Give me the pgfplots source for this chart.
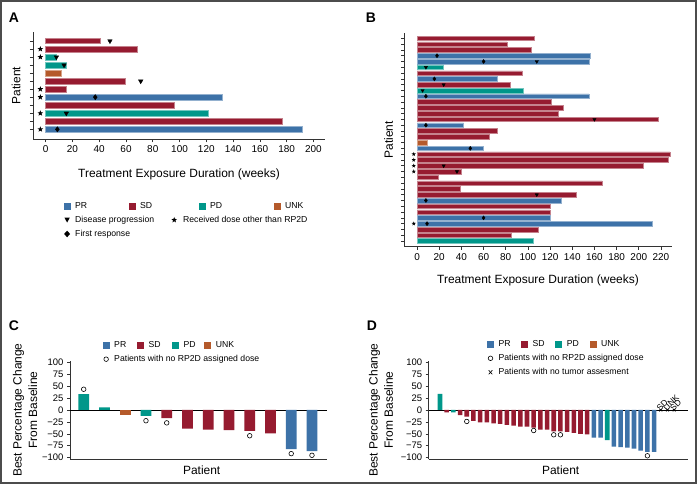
\documentclass[border=0pt]{standalone}
\usepackage{fontspec}
\setmainfont{Liberation Sans}
\usepackage{pgfplots}
\pgfplotsset{compat=1.18}

\definecolor{prc}{HTML}{3D72A8}
\definecolor{sdc}{HTML}{961B30}
\definecolor{pdc}{HTML}{00978A}
\definecolor{unkc}{HTML}{B55A2B}
\definecolor{axc}{HTML}{333333}

\newcommand{\fs}[1]{\fontsize{#1}{#1}\selectfont}

% filled five point star
\pgfdeclareplotmark{fstar}{%
  \pgfpathmoveto{\pgfpointpolar{90}{\pgfplotmarksize}}%
  \pgfpathlineto{\pgfpointpolar{126}{0.42*\pgfplotmarksize}}%
  \pgfpathlineto{\pgfpointpolar{162}{\pgfplotmarksize}}%
  \pgfpathlineto{\pgfpointpolar{198}{0.42*\pgfplotmarksize}}%
  \pgfpathlineto{\pgfpointpolar{234}{\pgfplotmarksize}}%
  \pgfpathlineto{\pgfpointpolar{270}{0.42*\pgfplotmarksize}}%
  \pgfpathlineto{\pgfpointpolar{306}{\pgfplotmarksize}}%
  \pgfpathlineto{\pgfpointpolar{342}{0.42*\pgfplotmarksize}}%
  \pgfpathlineto{\pgfpointpolar{18}{\pgfplotmarksize}}%
  \pgfpathlineto{\pgfpointpolar{54}{0.42*\pgfplotmarksize}}%
  \pgfpathclose\pgfusepathqfill}

% legend keys
\newcommand{\legsq}[1]{\addlegendimage{legend image code/.code={\fill[#1, draw=none] (0bp,-3.6bp) rectangle (7.2bp,3.6bp);}}}
\newcommand{\legsym}[1]{\addlegendimage{legend image code/.code={\path[draw=none, fill=none] (0bp,-3.6bp) rectangle (7.2bp,3.6bp); #1}}}
\newcommand{\legtri}{\fill[black, draw=none] (3.6bp,-2.6bp) -- (0.9bp,2.4bp) -- (6.3bp,2.4bp) -- cycle;}
\newcommand{\legdiam}{\fill[black, draw=none] (3.6bp,3.3bp) -- (6.6bp,0bp) -- (3.6bp,-3.3bp) -- (0.6bp,0bp) -- cycle;}
\newcommand{\legcirc}{\draw[black, fill=none, line width=0.6bp] (3.6bp,0bp) circle (2.3bp);}
\newcommand{\legcross}{\draw[black, fill=none, line width=0.6bp] (1.8bp,-2bp) -- (5.4bp,2bp) (1.8bp,2bp) -- (5.4bp,-2bp);}

\pgfplotsset{
  panel/.style={
    scale only axis, anchor=south west, clip=false,
    axis x line*=bottom, axis y line*=left,
    axis line style={axc, line width=0.7bp},
    tick style={axc, line width=0.6bp},
    tick align=outside, major tick length=3bp,
    tick label style={font=\fs{10}},
    /pgf/number format/assume math mode=true,
    label style={font=\fs{12}},
    legend cell align=left,
  },
  hb/.style={xbar, bar shift=0pt, bar width=#1, forget plot, line width=0.5bp},
  vb/.style={ybar, bar shift=0pt, bar width=#1, forget plot, draw=none},
  leg/.style={draw=none, fill=none, inner sep=0pt, font=\fs{8.7},
    nodes={inner sep=0pt},
    row sep=6.2bp, column sep=0pt,
    /tikz/every odd column/.style={column sep=4.5bp}},
}

\begin{document}
\begin{tikzpicture}
\path[use as bounding box] (0,0) rectangle (699bp,-488bp);
\fill[white] (0,0) rectangle (699bp,-488bp);
\draw[black!70, line width=1.5bp] (1bp,-1bp) rectangle (696bp,-483bp);

\node[font=\bfseries\fs{14}] at (14bp,-18bp) {A};
\node[font=\bfseries\fs{14}] at (371bp,-18bp) {B};
\node[font=\bfseries\fs{14}] at (14bp,-326bp) {C};
\node[font=\bfseries\fs{14}] at (372bp,-326bp) {D};

% ---------------- A ----------------
\begin{axis}[panel,
  at={(33bp,-139.3bp)}, width=292bp, height=107.6bp,
  xmin=-9.5, xmax=208.7, ymin=-0.245, ymax=13.16,
  xtick={0,20,...,200}, ytick={1,...,12}, yticklabels={},
  xlabel={Treatment Exposure Duration (weeks)}, ylabel={Patient},
  xlabel style={at={(axis description cs:0.5,-0.322)}, anchor=center},
  ylabel style={at={(axis description cs:-0.058,0.5)}, anchor=center},
  legend columns=4,
  legend style={leg, at={(axis description cs:0.1038,-0.584)}, anchor=north west},
]
\addplot[hb=0.68, fill=prc, draw=prc!55!white] coordinates {(132,5) (191.8,1)};
\addplot[hb=0.68, fill=sdc, draw=sdc!55!white] coordinates {(40.6,12) (68.5,11) (59.3,7) (15.7,6) (96.4,4) (176.8,2)};
\addplot[hb=0.68, fill=pdc, draw=pdc!55!white] coordinates {(8.2,10) (15,9) (121.5,3)};
\addplot[hb=0.68, fill=unkc, draw=unkc!55!white] coordinates {(11.7,8)};
\addplot[only marks, mark=triangle*, mark size=2.6bp, mark options={rotate=180, fill=black, draw=black}, forget plot]
  coordinates {(48,12) (8,10) (13.7,9) (71,7) (15.4,3)};
\addplot[only marks, mark=diamond*, mark size=2.6bp, mark options={fill=black, draw=black}, forget plot]
  coordinates {(37,5) (8.7,1)};
\addplot[only marks, mark=fstar, mark size=3bp, mark options={fill=black}, forget plot]
  coordinates {(-4,11) (-4,10) (-4,6) (-4,5) (-4,3) (-4,1)};
\legsq{prc}\addlegendentry{\makebox[53.3bp][l]{PR}}
\legsq{sdc}\addlegendentry{\makebox[58.3bp][l]{SD}}
\legsq{pdc}\addlegendentry{\makebox[63.3bp][l]{PD}}
\legsq{unkc}\addlegendentry{UNK}
\legsym{\legtri}\addlegendentry{\makebox[53.3bp][l]{Disease progression}}
\legsym{\fill[black, draw=none, overlay, shift={(45.7bp,0bp)}] (90:3bp) -- (126:1.25bp) -- (162:3bp) -- (198:1.25bp) -- (234:3bp) -- (270:1.25bp) -- (306:3bp) -- (342:1.25bp) -- (18:3bp) -- (54:1.25bp) -- cycle;}
\addlegendentry{\makebox[58.3bp][l]{\hspace{42.9bp}Received dose other than RP2D}}
\addlegendimage{empty legend}\addlegendentry{}
\addlegendimage{empty legend}\addlegendentry{}
\legsym{\legdiam}\addlegendentry{\makebox[53.3bp][l]{First response}}
\end{axis}

% ---------------- B ----------------
\begin{axis}[panel,
  at={(404.3bp,-246.7bp)}, width=267.4bp, height=213.7bp,
  xmin=-11.5, xmax=229.7, ymin=0.02, ymax=36.92,
  xtick={0,20,...,220}, ytick={1,...,36}, yticklabels={},
  xlabel={Treatment Exposure Duration (weeks)}, ylabel={Patient},
  xlabel style={at={(axis description cs:0.5,-0.16)}, anchor=center},
  ylabel style={at={(axis description cs:-0.059,0.5)}, anchor=center},
]
\addplot[hb=0.8, fill=prc, draw=prc!55!white] coordinates {
  (156,33) (155,32) (72,29) (155,26) (42,21) (60,17) (130,8) (120,5) (212,4)};
\addplot[hb=0.8, fill=sdc, draw=sdc!55!white] coordinates {
  (106,36) (81,35) (103,34) (95,30) (84,28) (121,25) (132,24) (127,23) (218,22)
  (72,20) (65,19) (228,16) (227,15) (204,14) (40,13) (19,12) (167,11) (39,10)
  (144,9) (120,7) (120,6) (109,3) (85,2)};
\addplot[hb=0.8, fill=pdc, draw=pdc!55!white] coordinates {(24,31) (96,27) (105,1)};
\addplot[hb=0.8, fill=unkc, draw=unkc!55!white] coordinates {(9.5,18)};
\addplot[only marks, mark=triangle*, mark size=1.9bp, mark options={rotate=180, fill=black, draw=black}, forget plot]
  coordinates {(108,32) (8,31) (24,28) (5,27) (160,22) (24,14) (36,13) (108,9)};
\addplot[only marks, mark=diamond*, mark size=2bp, mark options={fill=black, draw=black}, forget plot]
  coordinates {(18,33) (60,32) (15.6,29) (8,26) (8,21) (48,17) (8,8) (60,5) (9,4)};
\addplot[only marks, mark=fstar, mark size=2.2bp, mark options={fill=black}, forget plot]
  coordinates {(-3,16) (-3,15) (-3,14) (-3,13) (-3,4)};
\end{axis}

% ---------------- C ----------------
\begin{axis}[panel,
  at={(70bp,-459.3bp)}, width=256.7bp, height=98.3bp,
  xmin=0.34, xmax=12.71, ymin=-103.4, ymax=102.7,
  xtick=\empty, ytick={-100,-75,...,100},
  yticklabels={−100,−75,−50,−25,0,25,50,75,100},
  tick label style={font=\fs{9.5}},
  extra y ticks={0}, extra y tick labels={},
  extra y tick style={grid=major, major grid style={black, line width=0.7bp}},
  xlabel={Patient}, ylabel={Best Percentage Change\\From Baseline},
  xlabel style={at={(axis description cs:0.513,-0.114)}, anchor=center},
  ylabel style={at={(axis description cs:-0.175,0.5)}, anchor=center, align=center, font=\fontsize{12}{15.5}\selectfont},
  legend columns=4,
  legend style={leg, at={(axis description cs:0.126,1.2)}, anchor=north west},
]
\addplot[vb=0.52, fill=prc] coordinates {(11,-82) (12,-86)};
\addplot[vb=0.52, fill=sdc] coordinates {(5,-17) (6,-39) (7,-41) (8,-42) (9,-44) (10,-49)};
\addplot[vb=0.52, fill=pdc] coordinates {(1,33) (2,5.5) (4,-12.5)};
\addplot[vb=0.52, fill=unkc] coordinates {(3,-10.5)};
\addplot[only marks, mark=o, mark size=2.3bp, mark options={black, line width=0.6bp}, forget plot]
  coordinates {(1,43.5) (4,-22.5) (5,-27) (9,-54) (11,-91.5) (12,-95)};
\legsq{prc}\addlegendentry{\makebox[22.7bp][l]{PR}}
\legsq{sdc}\addlegendentry{\makebox[23.3bp][l]{SD}}
\legsq{pdc}\addlegendentry{\makebox[20.6bp][l]{PD}}
\legsq{unkc}\addlegendentry{UNK}
\legsym{\legcirc}\addlegendentry{\makebox[22.7bp][l]{Patients with no RP2D assigned dose}}
\end{axis}

% ---------------- D ----------------
\begin{axis}[panel,
  at={(428.7bp,-459.3bp)}, width=259.3bp, height=98.3bp,
  xmin=-0.69, xmax=38.07, ymin=-103.4, ymax=102.7,
  xtick=\empty, ytick={-100,-75,...,100},
  yticklabels={−100,−75,−50,−25,0,25,50,75,100},
  tick label style={font=\fs{9.5}},
  extra y ticks={0}, extra y tick labels={},
  extra y tick style={grid=major, major grid style={black, line width=0.7bp}},
  xlabel={Patient}, ylabel={Best Percentage Change\\From Baseline},
  xlabel style={at={(axis description cs:0.509,-0.114)}, anchor=center},
  ylabel style={at={(axis description cs:-0.184,0.5)}, anchor=center, align=center, font=\fontsize{12}{15.5}\selectfont},
  legend columns=4,
  legend style={leg, at={(axis description cs:0.2237,1.209)}, anchor=north west},
]
\addplot[vb=0.68, fill=prc] coordinates {
  (24,-58) (25,-58) (27,-77) (28,-78) (29,-79) (30,-81) (31,-85) (32,-88) (33,-88)};
\addplot[vb=0.68, fill=sdc] coordinates {
  (2,-5) (4,-11) (5,-14) (6,-23) (7,-26) (8,-26) (9,-28) (10,-29) (11,-31) (12,-33)
  (13,-35) (14,-35) (15,-37) (16,-41) (17,-41) (18,-45) (19,-45) (20,-46) (21,-48)
  (22,-50) (23,-51)};
\addplot[vb=0.68, fill=pdc] coordinates {(1,34) (3,-5) (26,-63)};
\addplot[only marks, mark=o, mark size=2.3bp, mark options={black, line width=0.6bp}, forget plot]
  coordinates {(5,-24) (15,-43) (18,-52) (19,-52) (32,-96)};
\addplot[only marks, mark=x, mark size=2bp, mark options={black, line width=0.6bp},
  point meta=explicit symbolic, nodes near coords,
  nodes near coords style={rotate=45, anchor=west, font=\fs{8.5}, inner sep=0.5bp, xshift=-2bp, yshift=2.5bp},
  forget plot]
  coordinates {(34,0) [SD] (35,0) [UNK] (36,0) [SD]};
\legsq{prc}\addlegendentry{\makebox[22.3bp][l]{PR}}
\legsq{sdc}\addlegendentry{\makebox[22.6bp][l]{SD}}
\legsq{pdc}\addlegendentry{\makebox[22.6bp][l]{PD}}
\legsq{unkc}\addlegendentry{UNK}
\legsym{\legcirc}\addlegendentry{\makebox[22.3bp][l]{Patients with no RP2D assigned dose}}
\addlegendimage{empty legend}\addlegendentry{}
\addlegendimage{empty legend}\addlegendentry{}
\addlegendimage{empty legend}\addlegendentry{}
\legsym{\legcross}\addlegendentry{\makebox[22.3bp][l]{Patients with no tumor assesment}}
\end{axis}
\end{tikzpicture}
\end{document}
